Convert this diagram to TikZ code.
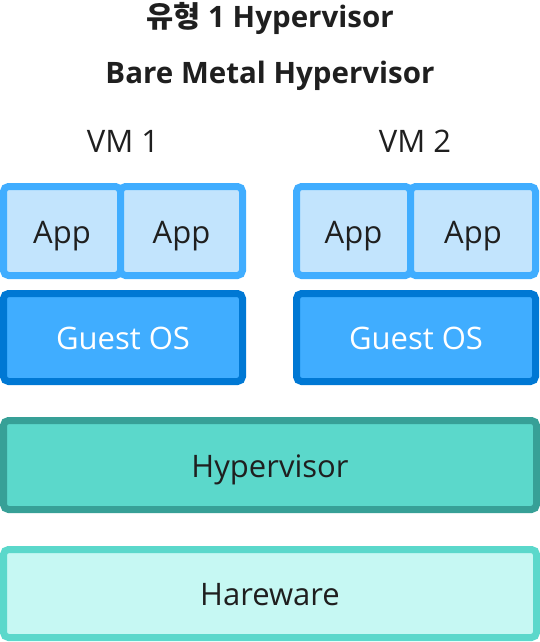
\documentclass[tikz,border=0pt]{standalone}
\usepackage{fontspec}
\setmainfont{Open Sans}
\newfontfamily\krfont{Noto Sans CJK KR}

\definecolor{appfill}{HTML}{C2E4FD}
\definecolor{appline}{HTML}{40ADFF}
\definecolor{osfill}{HTML}{40ADFF}
\definecolor{osline}{HTML}{0078D4}
\definecolor{hypfill}{HTML}{5BD8CB}
\definecolor{hypline}{HTML}{37A097}
\definecolor{hwfill}{HTML}{C6F8F3}
\definecolor{hwline}{HTML}{5BD8CB}
\definecolor{inkdark}{HTML}{1F1F1F}

\begin{document}
\begin{tikzpicture}[x=1pt, y=-1pt,
    layer/.style={draw, line width=7pt, rounded corners=5pt, inner sep=0pt, outer sep=0pt,
        font=\fontsize{31}{37}\selectfont, text=inkdark, text height=24pt, text depth=0pt},
    appbox/.style={layer, draw=appline, fill=appfill, minimum height=89pt},
    osbox/.style={layer, draw=osline, fill=osfill, text=white, minimum width=239pt, minimum height=88pt},
    hostbox/.style={layer, minimum width=533pt, minimum height=89pt},
    heading/.style={font=\bfseries\fontsize{29.5}{35}\selectfont, text=inkdark, text height=24pt, text depth=0pt},
    vmlabel/.style={font=\fontsize{31}{37}\selectfont, text=inkdark, text height=24pt, text depth=0pt}]

    \useasboundingbox (0,0) rectangle (540,642);

    \node[heading] (title) at (270,16) {{\krfont 유형} 1 Hypervisor};
    \node[heading] (subtitle) at (270,71) {Bare Metal Hypervisor};

    \node[vmlabel] (vm1) at (123,140) {VM 1};
    \node[vmlabel] (vm2) at (415,140) {VM 2};

    \node[appbox, minimum width=117pt] (app11) at (62,231) {App};
    \node[appbox, minimum width=122pt] (app12) at (181.5,231) {App};
    \node[appbox, minimum width=114pt] (app21) at (353.5,231) {App};
    \node[appbox, minimum width=125pt] (app22) at (473,231) {App};

    \node[osbox] (guest1) at (123,337.5) {Guest OS};
    \node[osbox] (guest2) at (416,337.5) {Guest OS};

    \node[hostbox, draw=hypline, fill=hypfill] (hyper) at (270,465) {Hypervisor};
    \node[hostbox, draw=hwline, fill=hwfill, minimum height=88pt] (hware) at (270,593.5) {Hareware};

\end{tikzpicture}
\end{document}
